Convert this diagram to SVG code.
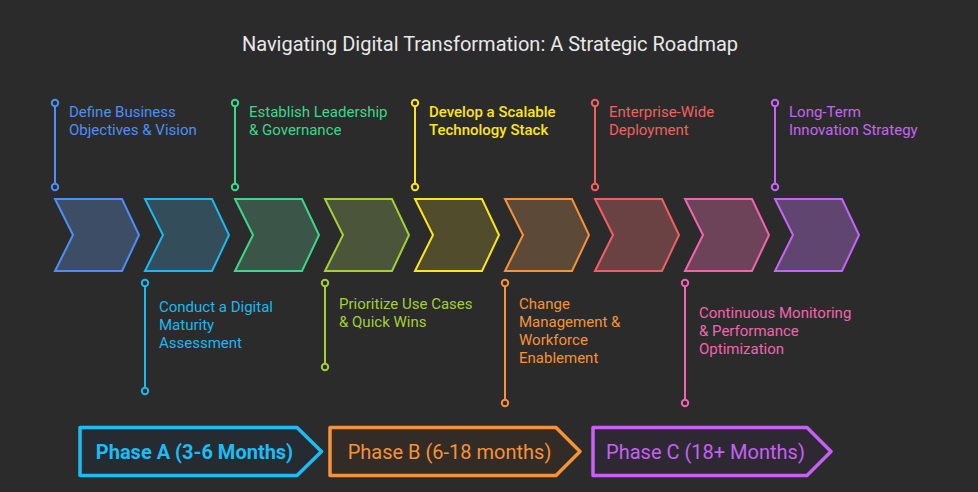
<svg xmlns="http://www.w3.org/2000/svg" width="978" height="492" viewBox="0 0 978 492">
<defs>
<style>
text{font-family:Roboto,"Liberation Sans",sans-serif;}
.title{font-size:20px;fill:#e8e8e8;}
.lbl{font-size:15px;}
.chev{stroke-width:2;stroke-linejoin:miter;}
.conn line{stroke-width:2;}
.conn circle{stroke-width:2;fill:#2b2b2b;}
.phase{stroke-width:3.5;stroke-linejoin:round;}
.ptext{font-size:20px;}
</style>
</defs>
<rect x="0" y="0" width="978" height="492" fill="#2b2b2b"/>
<text class="title" x="490" y="51" text-anchor="middle">Navigating Digital Transformation: A Strategic Roadmap</text>

<g id="connectors" class="conn">
<line x1="55" y1="103" x2="55" y2="187" stroke="#4d8ef7"/><circle cx="55" cy="103" r="3.2" stroke="#4d8ef7"/><circle cx="55" cy="187" r="3.2" stroke="#4d8ef7"/>
<line x1="145" y1="283" x2="145" y2="391" stroke="#1cb8f0"/><circle cx="145" cy="283" r="3.2" stroke="#1cb8f0"/><circle cx="145" cy="391" r="3.2" stroke="#1cb8f0"/>
<line x1="235" y1="103" x2="235" y2="187" stroke="#3ed68a"/><circle cx="235" cy="103" r="3.2" stroke="#3ed68a"/><circle cx="235" cy="187" r="3.2" stroke="#3ed68a"/>
<line x1="325" y1="283" x2="325" y2="367" stroke="#a4cf37"/><circle cx="325" cy="283" r="3.2" stroke="#a4cf37"/><circle cx="325" cy="367" r="3.2" stroke="#a4cf37"/>
<line x1="415" y1="103" x2="415" y2="187" stroke="#fde51c"/><circle cx="415" cy="103" r="3.2" stroke="#fde51c"/><circle cx="415" cy="187" r="3.2" stroke="#fde51c"/>
<line x1="505" y1="283" x2="505" y2="403" stroke="#f6923a"/><circle cx="505" cy="283" r="3.2" stroke="#f6923a"/><circle cx="505" cy="403" r="3.2" stroke="#f6923a"/>
<line x1="595" y1="103" x2="595" y2="187" stroke="#f06060"/><circle cx="595" cy="103" r="3.2" stroke="#f06060"/><circle cx="595" cy="187" r="3.2" stroke="#f06060"/>
<line x1="685" y1="283" x2="685" y2="403" stroke="#f065b0"/><circle cx="685" cy="283" r="3.2" stroke="#f065b0"/><circle cx="685" cy="403" r="3.2" stroke="#f065b0"/>
<line x1="775" y1="103" x2="775" y2="187" stroke="#c565f5"/><circle cx="775" cy="103" r="3.2" stroke="#c565f5"/><circle cx="775" cy="187" r="3.2" stroke="#c565f5"/>
</g>

<g id="step1">
<path class="chev" d="M55,199 L122,199 L139,235 L122,271 L55,271 L73,235 Z" fill="#3d4d66" stroke="#4d8ef7"/>
<text class="lbl" fill="#4d8ef7"><tspan x="69" y="117">Define Business</tspan><tspan x="69" y="135">Objectives &amp; Vision</tspan></text>
</g>
<g id="step2">
<path class="chev" d="M145,199 L212,199 L229,235 L212,271 L145,271 L163,235 Z" fill="#334e5a" stroke="#1cb8f0"/>
<text class="lbl" fill="#1cb8f0"><tspan x="159" y="312">Conduct a Digital</tspan><tspan x="159" y="330">Maturity</tspan><tspan x="159" y="348">Assessment</tspan></text>
</g>
<g id="step3">
<path class="chev" d="M235,199 L302,199 L319,235 L302,271 L235,271 L253,235 Z" fill="#3b5648" stroke="#3ed68a"/>
<text class="lbl" fill="#3ed68a"><tspan x="249" y="117">Establish Leadership</tspan><tspan x="249" y="135">&amp; Governance</tspan></text>
</g>
<g id="step4">
<path class="chev" d="M325,199 L392,199 L409,235 L392,271 L325,271 L343,235 Z" fill="#4b5539" stroke="#a4cf37"/>
<text class="lbl" fill="#a4cf37"><tspan x="339" y="309">Prioritize Use Cases</tspan><tspan x="339" y="327">&amp; Quick Wins</tspan></text>
</g>
<g id="step5">
<path class="chev" d="M415,199 L482,199 L499,235 L482,271 L415,271 L433,235 Z" fill="#514c2c" stroke="#fde51c"/>
<text class="lbl" fill="#fde51c" font-weight="500"><tspan x="429" y="117">Develop a Scalable</tspan><tspan x="429" y="135">Technology Stack</tspan></text>
</g>
<g id="step6">
<path class="chev" d="M505,199 L572,199 L589,235 L572,271 L505,271 L523,235 Z" fill="#5c4938" stroke="#f6923a"/>
<text class="lbl" fill="#f6923a"><tspan x="519" y="309">Change</tspan><tspan x="519" y="327">Management &amp;</tspan><tspan x="519" y="345">Workforce</tspan><tspan x="519" y="363">Enablement</tspan></text>
</g>
<g id="step7">
<path class="chev" d="M595,199 L662,199 L679,235 L662,271 L595,271 L613,235 Z" fill="#6b4243" stroke="#f06060"/>
<text class="lbl" fill="#f06060"><tspan x="609" y="117">Enterprise-Wide</tspan><tspan x="609" y="135">Deployment</tspan></text>
</g>
<g id="step8">
<path class="chev" d="M685,199 L752,199 L769,235 L752,271 L685,271 L703,235 Z" fill="#6c4358" stroke="#f065b0"/>
<text class="lbl" fill="#f065b0"><tspan x="699" y="318">Continuous Monitoring</tspan><tspan x="699" y="336">&amp; Performance</tspan><tspan x="699" y="354">Optimization</tspan></text>
</g>
<g id="step9">
<path class="chev" d="M775,199 L842,199 L859,235 L842,271 L775,271 L793,235 Z" fill="#5f4570" stroke="#c565f5"/>
<text class="lbl" fill="#c565f5"><tspan x="789" y="117">Long-Term</tspan><tspan x="789" y="135">Innovation Strategy</tspan></text>
</g>

<g id="phaseA">
<path class="phase" d="M80,427.5 L297,427.5 L321.5,451.5 L297,475.5 L80,475.5 Z" fill="#262b31" stroke="#1cbdf5"/>
<text class="ptext" x="194.5" y="458.5" text-anchor="middle" fill="#1cbdf5" font-weight="700">Phase A (3-6 Months)</text>
</g>
<g id="phaseB">
<path class="phase" d="M330,427.5 L556,427.5 L580,451.5 L556,475.5 L330,475.5 Z" fill="#322b26" stroke="#f6923a"/>
<text class="ptext" x="449.5" y="458.5" text-anchor="middle" fill="#f6923a">Phase B (6-18 months)</text>
</g>
<g id="phaseC">
<path class="phase" d="M593,427.5 L807,427.5 L831,451.5 L807,475.5 L593,475.5 Z" fill="#2e2832" stroke="#c561f5"/>
<text class="ptext" x="705.5" y="458.5" text-anchor="middle" fill="#c561f5">Phase C (18+ Months)</text>
</g>
</svg>
